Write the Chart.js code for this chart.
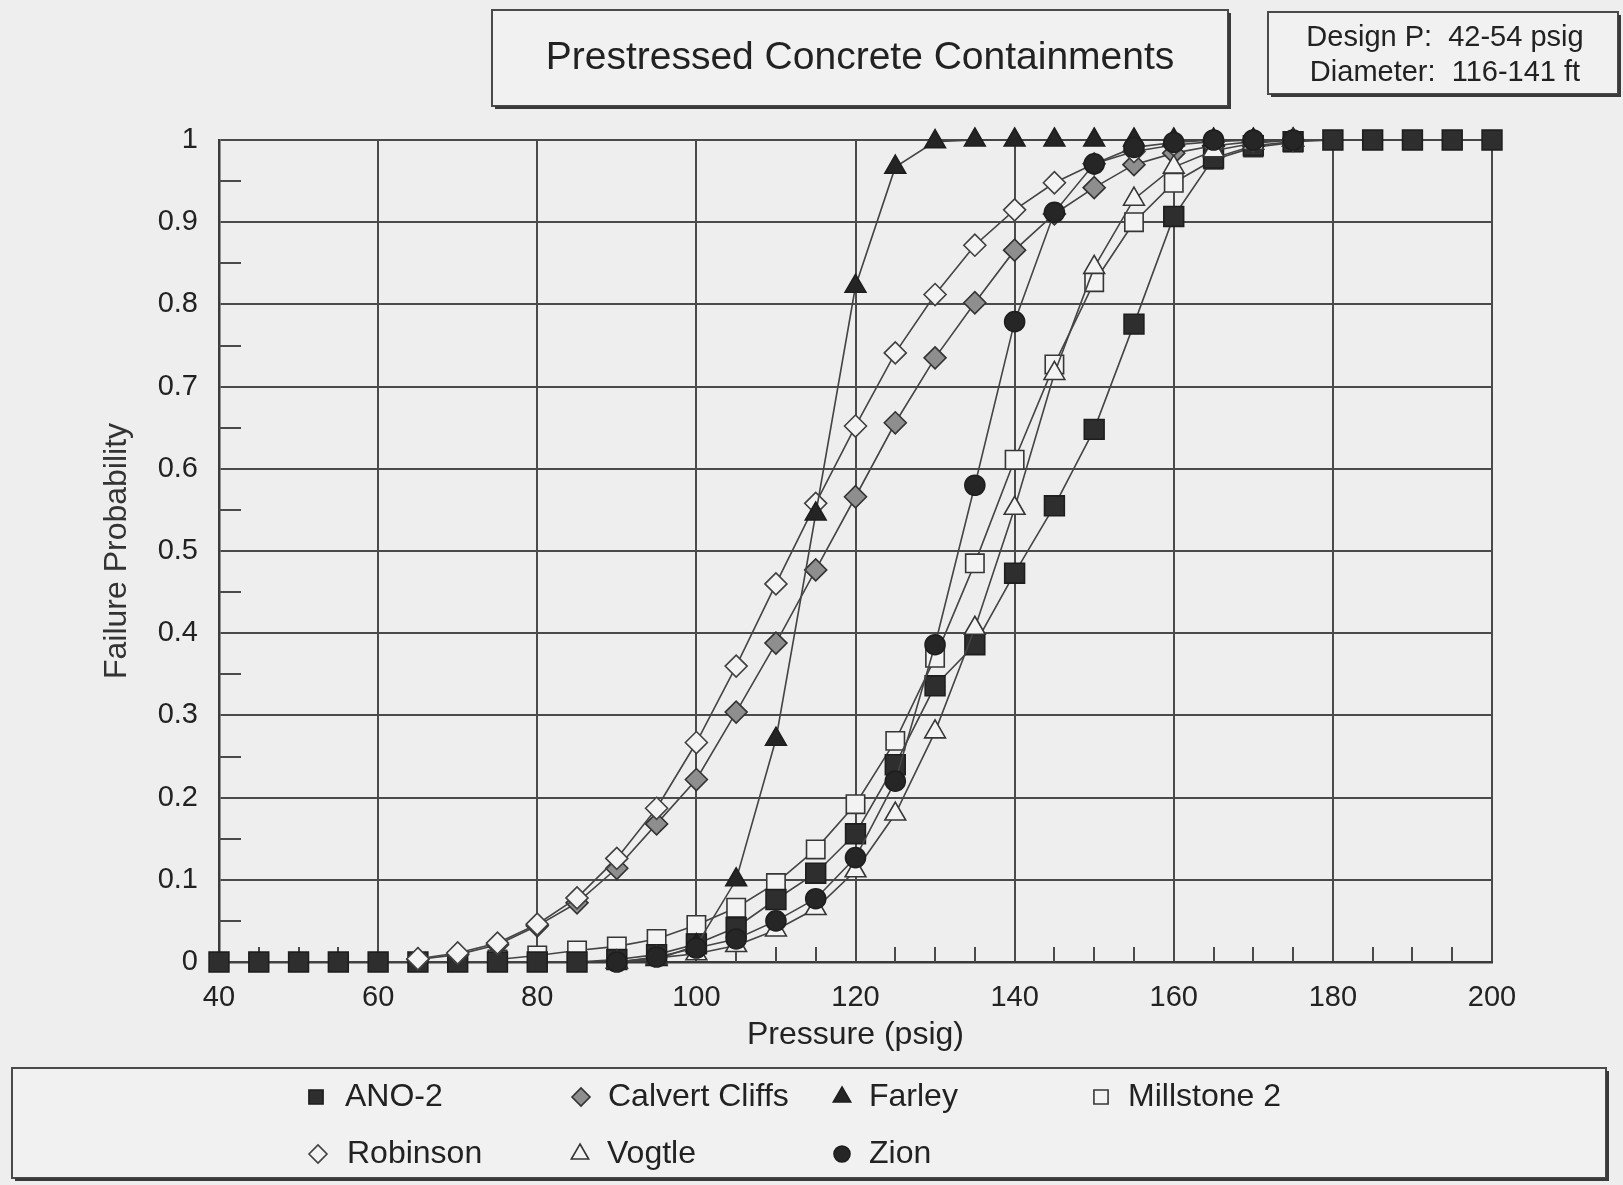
<!DOCTYPE html>
<html>
<head>
<meta charset="utf-8">
<title>Prestressed Concrete Containments</title>
<script src="https://cdn.jsdelivr.net/npm/chart.js@4/dist/chart.umd.min.js"></script>
<style>
  html, body { margin: 0; padding: 0; background: #eeeeee; }
  canvas { display: block; }
</style>
</head>
<body>
<canvas id="c" width="1623" height="1185"></canvas>
<script>
// Internal pressure (psig) at which each failure probability is evaluated
const pressures = [40, 45, 50, 55, 60, 65, 70, 75, 80, 85, 90, 95, 100, 105, 110, 115, 120,
                   125, 130, 135, 140, 145, 150, 155, 160, 165, 170, 175, 180, 185, 190, 195, 200];

// Cumulative failure probability per plant (null = not evaluated)
const ano2 = [0, 0, 0, 0, 0, 0, 0, 0, 0, 0, 0.003, 0.009, 0.022, 0.042, 0.076, 0.108, 0.156,
              0.24, 0.336, 0.386, 0.473, 0.555, 0.648, 0.776, 0.907, 0.978, 0.993, 0.998, 1, 1, 1, 1, 1];
const calvertCliffs = [null, null, null, null, null, 0.003, 0.009, 0.021, 0.044, 0.072, 0.114, 0.168, 0.222,
              0.304, 0.388, 0.477, 0.566, 0.656, 0.735, 0.802, 0.866, 0.91, 0.942, 0.97, 0.984, 0.993,
              0.998, 1, null, null, null, null, null];
const farley = [null, null, null, null, null, null, null, null, null, null, 0, 0.003, 0.02, 0.1, 0.271,
              0.545, 0.822, 0.967, 0.998, 1, 1, 1, 1, 1, 1, 1, 1, 1, null, null, null, null, null];
const millstone2 = [null, null, null, null, null, null, null, 0.003, 0.008, 0.014, 0.019, 0.028, 0.045,
              0.066, 0.096, 0.137, 0.192, 0.269, 0.37, 0.485, 0.611, 0.727, 0.827, 0.9, 0.948, 0.976,
              0.991, 0.997, null, null, null, null, null];
const robinson = [null, null, null, null, null, 0.004, 0.011, 0.023, 0.046, 0.078, 0.126, 0.187, 0.267, 0.36,
              0.46, 0.558, 0.652, 0.741, 0.812, 0.872, 0.915, 0.948, 0.971, 0.986, 0.994, 0.998, 1, 1,
              null, null, null, null, null];
const vogtle = [null, null, null, null, null, null, null, null, null, null, 0, 0.005, 0.01, 0.02, 0.039,
              0.065, 0.111, 0.18, 0.28, 0.406, 0.552, 0.716, 0.845, 0.928, 0.967, 0.987, 0.996, 1,
              null, null, null, null, null];
const zion = [null, null, null, null, null, null, null, null, null, null, 0, 0.006, 0.017, 0.028, 0.05,
              0.077, 0.127, 0.22, 0.386, 0.58, 0.779, 0.912, 0.971, 0.991, 0.997, 1, 1, 1,
              null, null, null, null, null];

const seriesNames = ['ANO-2', 'Calvert Cliffs', 'Farley', 'Millstone 2', 'Robinson', 'Vogtle', 'Zion'];

// Axis labelling
const xTickLabels = ['40', '60', '80', '100', '120', '140', '160', '180', '200'];
const yTickLabels = ['0', '0.1', '0.2', '0.3', '0.4', '0.5', '0.6', '0.7', '0.8', '0.9', '1'];
const xTitle = 'Pressure (psig)';
const yTitle = 'Failure Probability';
const chartTitle = 'Prestressed Concrete Containments';
const infoLines = ['Design P:  42-54 psig', 'Diameter:  116-141 ft'];

const FONT = "'Liberation Sans', Arial, Helvetica, sans-serif";
const INK = '#222222';

// Marker appearance per plant; "layer" sets painting order (higher = on top)
const markerStyles = [
  { pointStyle: 'rect',     radius: 14, fill: '#2e2e2e', stroke: '#1e1e1e', legendRadius: 10, layer: 2 },
  { pointStyle: 'rectRot',  radius: 11, fill: '#8e8e8e', stroke: '#333333', legendRadius: 9,  layer: 3 },
  { pointStyle: 'triangle', radius: 12, fill: '#242424', stroke: '#1e1e1e', legendRadius: 10, layer: 5 },
  { pointStyle: 'rect',     radius: 13, fill: '#f3f3f3', stroke: '#363636', legendRadius: 10, layer: 1 },
  { pointStyle: 'rectRot',  radius: 11, fill: '#f3f3f3', stroke: '#404040', legendRadius: 9,  layer: 4 },
  { pointStyle: 'triangle', radius: 12, fill: '#f3f3f3', stroke: '#363636', legendRadius: 10, layer: 6 },
  { pointStyle: 'circle',   radius: 10, fill: '#262626', stroke: '#1e1e1e', legendRadius: 8,  layer: 7 }
];

const seriesValues = [ano2, calvertCliffs, farley, millstone2, robinson, vogtle, zion];

const datasets = seriesValues.map((vals, k) => ({
  label: seriesNames[k],
  data: pressures.map((p, i) => ({ x: p, y: vals[i] })),
  borderColor: '#444444',
  borderWidth: 1.6,
  tension: 0,
  fill: false,
  clip: false,
  pointStyle: markerStyles[k].pointStyle,
  pointRadius: markerStyles[k].radius,
  pointBackgroundColor: markerStyles[k].fill,
  pointBorderColor: markerStyles[k].stroke,
  pointBorderWidth: 1.6,
  // Chart.js paints lower "order" values last
  order: 10 - markerStyles[k].layer
}));

function boxWithShadow(ctx, x, y, w, h) {
  ctx.save();
  ctx.fillStyle = '#f1f1f1';
  ctx.fillRect(x, y, w, h);
  ctx.strokeStyle = '#4a4a4a';
  ctx.lineWidth = 2;
  ctx.strokeRect(x, y, w, h);
  ctx.fillStyle = '#3a3a3a';
  ctx.fillRect(x + 3, y + h, w, 3);
  ctx.fillRect(x + w, y + 3, 3, h);
  ctx.restore();
}

const decorations = {
  id: 'decorations',
  beforeDraw(chart) {
    const ctx = chart.ctx;
    ctx.save();
    ctx.fillStyle = '#eeeeee';
    ctx.fillRect(0, 0, chart.width, chart.height);
    ctx.restore();
  },
  beforeDatasetsDraw(chart) {
    // minor tick marks on the inside of the left and bottom axes
    const ctx = chart.ctx;
    const xs = chart.scales.x, ys = chart.scales.y;
    const area = chart.chartArea;
    ctx.save();
    ctx.strokeStyle = '#4a4a4a';
    ctx.lineWidth = 2;
    ctx.beginPath();
    for (let v = 0.05; v < 1; v += 0.1) {
      const py = Math.round(ys.getPixelForValue(v));
      ctx.moveTo(area.left, py);
      ctx.lineTo(area.left + 22, py);
    }
    for (let p = 45; p < 200; p += 5) {
      if (p % 20 === 0) continue;
      const px = Math.round(xs.getPixelForValue(p));
      ctx.moveTo(px, area.bottom);
      ctx.lineTo(px, area.bottom - 15);
    }
    ctx.stroke();
    ctx.restore();
  },
  afterDraw(chart) {
    const ctx = chart.ctx;
    const area = chart.chartArea;
    ctx.save();

    // title box
    boxWithShadow(ctx, 492, 10, 736, 96);
    ctx.fillStyle = INK;
    ctx.textAlign = 'center';
    ctx.textBaseline = 'middle';
    ctx.font = '39px ' + FONT;
    ctx.fillText(chartTitle, 860, 58);

    // design data box
    boxWithShadow(ctx, 1268, 12, 350, 82);
    ctx.font = '29px ' + FONT;
    ctx.fillText(infoLines[0], 1445, 38);
    ctx.fillText(infoLines[1], 1445, 73);

    // axis titles
    ctx.font = '32px ' + FONT;
    ctx.fillText(xTitle, (area.left + area.right) / 2, 1035);
    ctx.save();
    ctx.fillStyle = '#333333';
    ctx.translate(117, 551);
    ctx.rotate(-Math.PI / 2);
    ctx.fillText(yTitle, 0, 0);
    ctx.restore();

    // legend
    boxWithShadow(ctx, 12, 1068, 1594, 110);
    const legendSlots = [
      { mx: 316, tx: 345, y: 1097 },
      { mx: 581, tx: 608, y: 1097 },
      { mx: 842, tx: 869, y: 1097 },
      { mx: 1101, tx: 1128, y: 1097 },
      { mx: 318, tx: 347, y: 1154 },
      { mx: 580, tx: 607, y: 1154 },
      { mx: 842, tx: 869, y: 1154 }
    ];
    ctx.font = '32px ' + FONT;
    ctx.textAlign = 'left';
    ctx.textBaseline = 'middle';
    seriesNames.forEach((name, k) => {
      const s = legendSlots[k], m = markerStyles[k];
      ctx.fillStyle = m.fill;
      ctx.strokeStyle = m.stroke;
      ctx.lineWidth = 1.6;
      Chart.helpers.drawPoint(ctx, { pointStyle: m.pointStyle, radius: m.legendRadius, rotation: 0, borderWidth: 1.6 }, s.mx, s.y);
      ctx.fillStyle = INK;
      ctx.fillText(name, s.tx, s.y);
    });
    ctx.restore();
  }
};

new Chart(document.getElementById('c').getContext('2d'), {
  type: 'line',
  data: { datasets },
  options: {
    responsive: false,
    animation: false,
    devicePixelRatio: 1,
    layout: { padding: { top: 140, right: 131, bottom: 143, left: 0 } },
    plugins: {
      legend: { display: false },
      tooltip: { enabled: false },
      title: { display: false }
    },
    scales: {
      x: {
        type: 'linear',
        min: 40,
        max: 200,
        afterFit(scale) { scale.height = 80; },
        ticks: {
          stepSize: 20,
          padding: 19,
          color: INK,
          font: { family: FONT, size: 29 },
          maxRotation: 0,
          callback: (v, i) => xTickLabels[i]
        },
        grid: { color: '#4a4a4a', lineWidth: 2, drawTicks: false },
        border: { color: '#3a3a3a', width: 2.5 }
      },
      y: {
        min: 0,
        max: 1,
        afterFit(scale) { scale.width = 219; },
        ticks: {
          stepSize: 0.1,
          padding: 21,
          color: INK,
          font: { family: FONT, size: 29 },
          callback: (v, i) => yTickLabels[i]
        },
        grid: { color: '#4a4a4a', lineWidth: 2, drawTicks: false },
        border: { color: '#3a3a3a', width: 2.5 }
      }
    }
  },
  plugins: [decorations]
});
</script>
</body>
</html>
